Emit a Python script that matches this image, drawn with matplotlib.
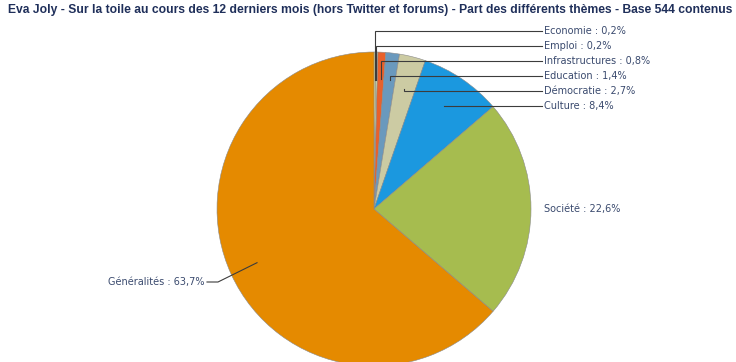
import numpy as np
import matplotlib
matplotlib.use("Agg")
import matplotlib.pyplot as plt

categories = ["Economie", "Emploi", "Infrastructures", "Education", "Démocratie",
              "Culture", "Société", "Généralités"]
values = [0.2, 0.2, 0.8, 1.4, 2.7, 8.4, 22.6, 63.7]
value_labels = ["0,2%", "0,2%", "0,8%", "1,4%", "2,7%", "8,4%", "22,6%", "63,7%"]
colors = ["#EDE28C", "#CFE0A8", "#E8612C", "#6A99BD", "#CCCBA3", "#1B98DF", "#A6BC4F", "#E58A00"]

title = ("Eva Joly - Sur la toile au cours des 12 derniers mois (hors Twitter et forums) "
         "- Part des différents thèmes - Base 544 contenus")

W, H = 736, 362
fig = plt.figure(figsize=(W / 100, H / 100), dpi=100)
ax = fig.add_axes([0, 0, 1, 1])

cx, cy, R = 374, 209, 157
# y axis is inverted (pixel coords), so math angle -90 is the visual top and
# counter-clockwise in data space appears clockwise on screen
wedges, _ = ax.pie(values, colors=colors, startangle=-90, counterclock=True,
                   center=(cx, cy), radius=R, frame=True,
                   wedgeprops=dict(edgecolor="#8a8a8a", linewidth=0.4))
ax.set_xlim(0, W)
ax.set_ylim(H, 0)
ax.set_aspect("equal")
ax.axis("off")


def anchor(w, frac=0.79):
    ang = np.deg2rad((w.theta1 + w.theta2) / 2)
    return cx + frac * R * np.cos(ang), cy + frac * R * np.sin(ang)


txt_color = "#3A4A6E"
line_color = "#3c3c3c"
label_x = 542
small_y = [31, 46, 61, 76, 91, 106]
fracs = [0.82, 0.82, 0.83, 0.83, 0.79, 0.79]
for i in range(6):
    w = wedges[i]
    ax_, ay_ = anchor(w, fracs[i])
    ly = small_y[i]
    ax.plot([ax_, ax_, label_x], [ay_, ly, ly], color=line_color, lw=0.8,
            solid_joinstyle="miter")
    ax.text(label_x + 2, ly, f"{categories[i]} : {value_labels[i]}", fontsize=7,
            color=txt_color, va="center", ha="left", family="DejaVu Sans")

# Société
ax.text(label_x + 2, cy, f"{categories[6]} : {value_labels[6]}", fontsize=7,
        color=txt_color, va="center", ha="left")

# Généralités
gx, gy = anchor(wedges[7], 0.82)
ax.plot([gx, 218, 207], [gy, 282, 282], color=line_color, lw=0.8)
ax.text(205, 282, f"{categories[7]} : {value_labels[7]}", fontsize=7,
        color=txt_color, va="center", ha="right")

fig.text((7 + 733) / 2 / W, 1 - 10 / H, title, fontsize=8.75, fontweight="bold",
         family="Liberation Sans", color="#1F2F5A", ha="center", va="center")

fig.savefig("out.png", dpi=100)
